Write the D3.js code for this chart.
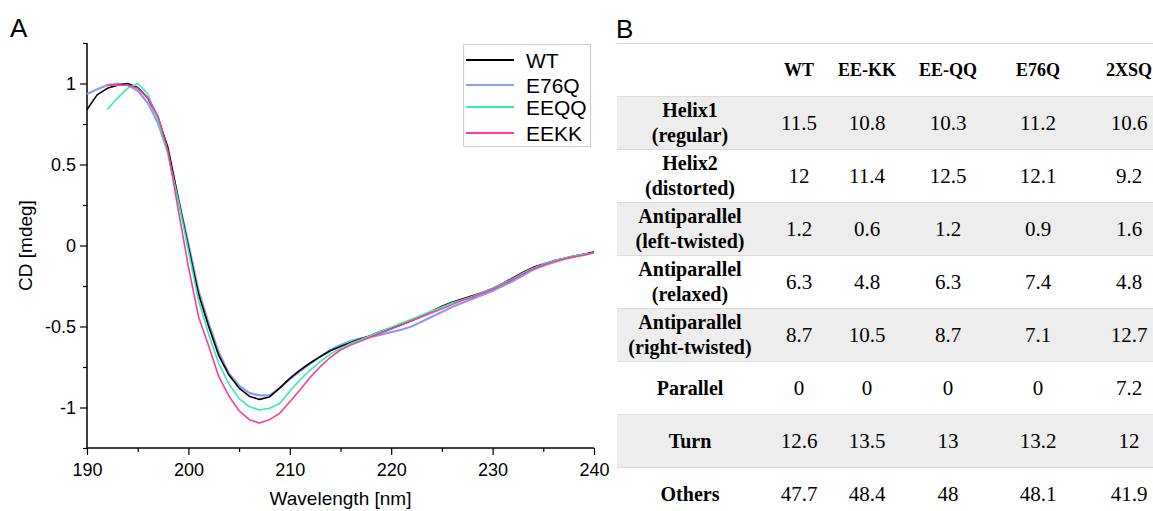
<!DOCTYPE html>
<html><head><meta charset="utf-8">
<script src="https://cdn.jsdelivr.net/npm/d3@7/dist/d3.min.js"></script>
<style>body{margin:0;background:#fff} svg{display:block}</style>
</head><body>
<svg id="c" width="1153" height="511"></svg>
<script>
// ---------- Panel A data ----------
const wavelengths = [190,191,192,193,194,195,196,197,198,199,200,201,202,203,204,205,206,207,208,209,210,211,212,213,214,215,216,217,218,219,220,221,222,223,224,225,226,227,228,229,230,231,232,233,234,235,236,237,238,239,240];
const seriesNames = ["WT","E76Q","EEQQ","EEKK"];
const seriesColors = ["#000000","#8c9cf6","#2ff0a6","#ff3a9c"];
const wt   = [0.84,0.93,0.97,0.99,1.00,0.975,0.91,0.79,0.60,0.29,-0.01,-0.30,-0.50,-0.68,-0.80,-0.88,-0.93,-0.95,-0.935,-0.88,-0.82,-0.77,-0.725,-0.686,-0.65,-0.624,-0.60,-0.575,-0.555,-0.53,-0.51,-0.49,-0.465,-0.435,-0.405,-0.375,-0.35,-0.33,-0.31,-0.29,-0.265,-0.235,-0.20,-0.165,-0.135,-0.115,-0.095,-0.08,-0.065,-0.055,-0.04];
const e76q = [0.935,0.965,0.99,1.00,0.99,0.955,0.88,0.755,0.57,0.29,0.01,-0.28,-0.48,-0.66,-0.79,-0.865,-0.91,-0.925,-0.925,-0.88,-0.825,-0.775,-0.73,-0.686,-0.645,-0.614,-0.59,-0.575,-0.565,-0.55,-0.535,-0.52,-0.50,-0.47,-0.44,-0.41,-0.38,-0.355,-0.33,-0.305,-0.28,-0.25,-0.22,-0.185,-0.15,-0.125,-0.105,-0.085,-0.07,-0.055,-0.04];
const eeqq = [null,null,0.84,0.91,0.97,1.00,0.935,0.775,0.56,0.28,-0.03,-0.34,-0.55,-0.73,-0.855,-0.945,-0.995,-1.015,-1.005,-0.975,-0.90,-0.83,-0.77,-0.717,-0.67,-0.635,-0.605,-0.58,-0.555,-0.53,-0.505,-0.48,-0.455,-0.43,-0.405,-0.38,-0.355,-0.335,-0.315,-0.29,-0.265,-0.235,-0.205,-0.17,-0.14,-0.115,-0.095,-0.08,-0.065,-0.055,-0.045];
const eekk = [null,null,0.99,0.99,0.99,0.97,0.91,0.80,0.58,0.22,-0.13,-0.44,-0.62,-0.81,-0.93,-1.02,-1.075,-1.095,-1.075,-1.036,-0.965,-0.892,-0.815,-0.748,-0.69,-0.645,-0.615,-0.59,-0.565,-0.54,-0.515,-0.49,-0.465,-0.44,-0.415,-0.39,-0.365,-0.34,-0.32,-0.295,-0.27,-0.24,-0.21,-0.175,-0.145,-0.12,-0.10,-0.085,-0.07,-0.06,-0.045];
const xMajorTicks = [190,200,210,220,230,240];
const xMinorTicks = [195,205,215,225,235];
const yMajorTicks = [-1,-0.5,0,0.5,1];
const yMinorTicks = [-1.25,-0.75,-0.25,0.25,0.75,1.25];

// ---------- Panel B data ----------
const tableColumns = ["WT","EE-KK","EE-QQ","E76Q","2XSQ"];
const rowLabels = [["Helix1","(regular)"],["Helix2","(distorted)"],["Antiparallel","(left-twisted)"],["Antiparallel","(relaxed)"],["Antiparallel","(right-twisted)"],["Parallel"],["Turn"],["Others"]];
const tableValues = [
  ["11.5","10.8","10.3","11.2","10.6"],
  ["12","11.4","12.5","12.1","9.2"],
  ["1.2","0.6","1.2","0.9","1.6"],
  ["6.3","4.8","6.3","7.4","4.8"],
  ["8.7","10.5","8.7","7.1","12.7"],
  ["0","0","0","0","7.2"],
  ["12.6","13.5","13","13.2","12"],
  ["47.7","48.4","48","48.1","41.9"]
];

const svg = d3.select("#c");
const sans = "'Liberation Sans', Arial, sans-serif";
const serif = "'Liberation Serif', 'DejaVu Serif', serif";

// ---------- Panel A ----------
const x = d3.scaleLinear().domain([190,240]).range([87,594]);
const y = d3.scaleLinear().domain([-1.25,1.25]).range([448,43]);

svg.append("text").attr("x",10).attr("y",37).attr("font-family",sans).attr("font-size",26).text("A");

const gx = svg.append("g").attr("transform",`translate(0,${y(-1.25)})`);
gx.append("g").attr("class","major").call(d3.axisBottom(x).tickValues(xMajorTicks).tickSize(7).tickSizeOuter(0).tickPadding(8).tickFormat(d3.format("d")));
gx.append("g").attr("class","minor").call(d3.axisBottom(x).tickValues(xMinorTicks).tickSize(4).tickSizeOuter(0).tickFormat(""));
const gy = svg.append("g").attr("transform",`translate(${x(190)},0)`);
gy.append("g").attr("class","major").call(d3.axisLeft(y).tickValues(yMajorTicks).tickSize(7).tickSizeOuter(0).tickPadding(4).tickFormat(d=>String(d)));
gy.append("g").attr("class","minor").call(d3.axisLeft(y).tickValues(yMinorTicks).tickSize(4).tickSizeOuter(0).tickFormat(""));
[gx,gy].forEach(g=>{
  g.selectAll(".domain").attr("stroke","none");
  g.selectAll("text").attr("font-family",sans).attr("font-size",18).attr("fill","#000");
  g.selectAll("line").attr("stroke","#000").attr("stroke-width",1.2);
});
// axis lines
svg.append("line").attr("x1",x(190)).attr("x2",x(240)).attr("y1",y(-1.25)).attr("y2",y(-1.25)).attr("stroke","#000").attr("stroke-width",1.5);
svg.append("line").attr("x1",x(190)).attr("x2",x(190)).attr("y1",y(1.25)).attr("y2",y(-1.25)).attr("stroke","#000").attr("stroke-width",1.5);

svg.append("text").attr("x",(x(190)+x(240))/2).attr("y",505).attr("text-anchor","middle")
  .attr("font-family",sans).attr("font-size",19).text("Wavelength [nm]");
svg.append("text").attr("transform",`translate(32,${(y(1.25)+y(-1.25))/2}) rotate(-90)`).attr("text-anchor","middle")
  .attr("font-family",sans).attr("font-size",19).text("CD [mdeg]");

const seriesData = [wt,e76q,eeqq,eekk];
const line = d3.line().defined(d=>d.v!==null).x(d=>x(d.w)).y(d=>y(d.v));
const drawOrder = [1,0,2,3];
drawOrder.forEach(i=>{
  const pts = wavelengths.map((w,j)=>({w, v: seriesData[i][j]}));
  svg.append("path").datum(pts).attr("d",line).attr("fill","none")
    .attr("stroke",seriesColors[i]).attr("stroke-width", i===1?2.2:1.6).attr("stroke-linejoin","round");
});

// legend
const lg = svg.append("g");
lg.append("rect").attr("x",463.5).attr("y",44.5).attr("width",127).attr("height",102).attr("fill","#fff").attr("stroke","#cfcfcf").attr("stroke-width",1.2);
const legendY = d3.scaleOrdinal().domain(seriesNames).range([60,85,107,133]);
seriesNames.forEach((n,i)=>{
  lg.append("line").attr("x1",466).attr("x2",514).attr("y1",legendY(n)).attr("y2",legendY(n)).attr("stroke",seriesColors[i]).attr("stroke-width",2);
  lg.append("text").attr("x",526).attr("y",legendY(n)).attr("dy","0.36em").attr("font-family",sans).attr("font-size",21).text(n);
});

// ---------- Panel B ----------
svg.append("text").attr("x",616).attr("y",38).attr("font-family",sans).attr("font-size",26).text("B");
const rowKeys = ["header"].concat(rowLabels.map((r,i)=>"r"+i));
const rowY = d3.scaleBand().domain(rowKeys).range([43,520]);
const colX = d3.scaleOrdinal().domain(tableColumns).range([799,867,948,1038,1129]);
const labelX = 690;
const tg = svg.append("g");
rowKeys.forEach((k,i)=>{
  if(i%2===1) tg.append("rect").attr("x",617).attr("y",rowY(k)).attr("width",536).attr("height",rowY.bandwidth()).attr("fill","#ededed");
});
rowKeys.forEach((k,i)=>{
  tg.append("line").attr("x1",617).attr("x2",1153).attr("y1",rowY(k)+0.5).attr("y2",rowY(k)+0.5).attr("stroke","#dcdcdc").attr("stroke-width",1);
});
tableColumns.forEach(c=>{
  tg.append("text").attr("x",colX(c)).attr("y",rowY("header")+rowY.bandwidth()/2).attr("dy","0.35em")
    .attr("text-anchor","middle").attr("font-family",serif).attr("font-weight","bold").attr("font-size",18).text(c);
});
rowLabels.forEach((lab,i)=>{
  const k = "r"+i, cy = rowY(k)+rowY.bandwidth()/2;
  const t = tg.append("text").attr("text-anchor","middle").attr("font-family",serif).attr("font-weight","bold").attr("font-size",20);
  if(lab.length===2){
    t.append("tspan").attr("x",labelX).attr("y",cy-12.5).attr("dy","0.35em").text(lab[0]);
    t.append("tspan").attr("x",labelX).attr("y",cy+12.5).attr("dy","0.35em").text(lab[1]);
  } else {
    t.append("tspan").attr("x",labelX).attr("y",cy).attr("dy","0.35em").text(lab[0]);
  }
  tableColumns.forEach((c,j)=>{
    tg.append("text").attr("x",colX(c)).attr("y",cy).attr("dy","0.35em").attr("text-anchor","middle")
      .attr("font-family",serif).attr("font-size",21).text(tableValues[i][j]);
  });
});
</script>
</body></html>
